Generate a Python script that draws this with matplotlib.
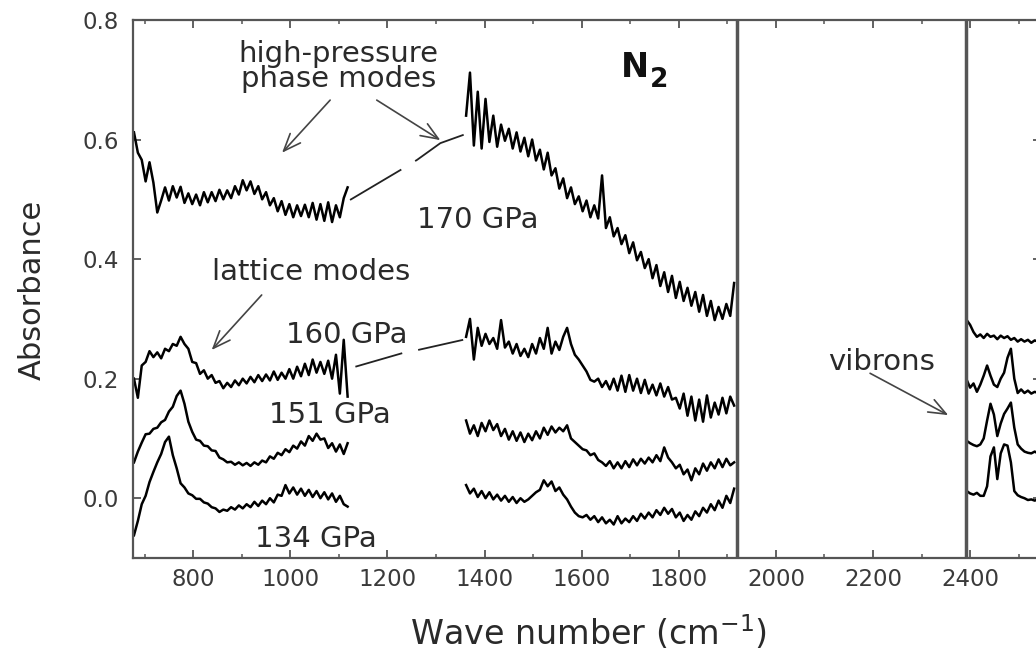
import matplotlib
matplotlib.use('Agg')
import matplotlib.pyplot as plt
from matplotlib.ticker import MultipleLocator, FormatStrFormatter

plt.rcParams['font.family'] = ['DejaVu Sans']

# wavenumber grids (cm^-1) of the three measured windows
LEFT_WN = [678, 686, 694, 702, 710, 718, 726, 734, 742, 750, 758, 766, 774, 782,
           790, 798, 806, 814, 822, 830, 838, 846, 854, 862, 870, 878, 886, 894,
           902, 910, 918, 926, 934, 942, 950, 958, 966, 974, 982, 990, 998, 1006,
           1014, 1022, 1030, 1038, 1046, 1054, 1062, 1070, 1078, 1086, 1094, 1102,
           1110, 1118]
RIGHT_WN = [1362, 1370, 1378, 1386, 1394, 1402, 1410, 1418, 1426, 1434, 1442, 1450,
            1458, 1466, 1474, 1482, 1490, 1498, 1506, 1514, 1522, 1530, 1538, 1546,
            1554, 1562, 1570, 1578, 1586, 1594, 1602, 1610, 1618, 1626, 1634, 1642,
            1650, 1658, 1666, 1674, 1682, 1690, 1698, 1706, 1714, 1722, 1730, 1738,
            1746, 1754, 1762, 1770, 1778, 1786, 1794, 1802, 1810, 1818, 1826, 1834,
            1842, 1850, 1858, 1866, 1874, 1882, 1890, 1898, 1906, 1914]
VIB_WN = [2393, 2400, 2407, 2414, 2421, 2428, 2435, 2442, 2449, 2456, 2463, 2470,
          2477, 2484, 2491, 2498, 2505, 2512, 2519, 2526, 2533, 2540]

# absorbance, 170 GPa
A170_LEFT = [0.612, 0.578, 0.566, 0.530, 0.562, 0.528, 0.478, 0.498, 0.520, 0.498,
             0.522, 0.503, 0.521, 0.494, 0.510, 0.492, 0.508, 0.490, 0.512, 0.495,
             0.512, 0.497, 0.516, 0.500, 0.515, 0.502, 0.522, 0.508, 0.532, 0.515,
             0.530, 0.509, 0.522, 0.500, 0.512, 0.490, 0.502, 0.480, 0.497, 0.474,
             0.492, 0.470, 0.490, 0.472, 0.491, 0.470, 0.494, 0.466, 0.492, 0.464,
             0.495, 0.462, 0.490, 0.470, 0.502, 0.520]
A170_RIGHT = [0.640, 0.712, 0.590, 0.680, 0.585, 0.668, 0.596, 0.640, 0.588, 0.625,
              0.598, 0.618, 0.585, 0.612, 0.580, 0.603, 0.572, 0.600, 0.565, 0.583,
              0.550, 0.578, 0.540, 0.552, 0.518, 0.535, 0.502, 0.520, 0.492, 0.505,
              0.480, 0.498, 0.470, 0.490, 0.468, 0.540, 0.452, 0.470, 0.438, 0.452,
              0.425, 0.440, 0.410, 0.428, 0.398, 0.412, 0.385, 0.400, 0.368, 0.390,
              0.355, 0.378, 0.345, 0.372, 0.335, 0.362, 0.330, 0.352, 0.322, 0.345,
              0.312, 0.340, 0.305, 0.330, 0.298, 0.320, 0.300, 0.325, 0.305, 0.360]
A170_VIB = [0.298, 0.290, 0.278, 0.270, 0.274, 0.268, 0.275, 0.270, 0.272, 0.266,
            0.272, 0.268, 0.271, 0.265, 0.268, 0.262, 0.266, 0.262, 0.265, 0.260,
            0.264, 0.262]
GAP170_WN = [1123, 1233, 1261, 1309, 1357]
GAP170_A = [0.499, 0.552, 0.566, 0.594, 0.608]

# absorbance, 160 GPa
A160_LEFT = [0.200, 0.168, 0.222, 0.228, 0.246, 0.236, 0.244, 0.234, 0.250, 0.246,
             0.258, 0.255, 0.270, 0.258, 0.250, 0.228, 0.226, 0.208, 0.214, 0.200,
             0.206, 0.193, 0.196, 0.184, 0.193, 0.186, 0.197, 0.189, 0.200, 0.192,
             0.203, 0.194, 0.206, 0.196, 0.207, 0.197, 0.212, 0.198, 0.210, 0.200,
             0.216, 0.200, 0.220, 0.204, 0.225, 0.206, 0.232, 0.210, 0.228, 0.208,
             0.230, 0.200, 0.240, 0.175, 0.265, 0.170]
A160_RIGHT = [0.270, 0.300, 0.232, 0.285, 0.255, 0.275, 0.258, 0.268, 0.250, 0.298,
              0.252, 0.262, 0.242, 0.258, 0.238, 0.250, 0.236, 0.258, 0.242, 0.268,
              0.250, 0.285, 0.242, 0.262, 0.248, 0.270, 0.285, 0.258, 0.240, 0.232,
              0.222, 0.212, 0.198, 0.195, 0.200, 0.186, 0.196, 0.182, 0.200, 0.180,
              0.205, 0.178, 0.206, 0.180, 0.200, 0.176, 0.198, 0.175, 0.190, 0.172,
              0.192, 0.170, 0.186, 0.165, 0.168, 0.150, 0.175, 0.138, 0.170, 0.130,
              0.165, 0.128, 0.172, 0.135, 0.160, 0.140, 0.168, 0.142, 0.170, 0.155]
A160_VIB = [0.198, 0.185, 0.192, 0.178, 0.190, 0.205, 0.222, 0.205, 0.190, 0.186,
            0.200, 0.210, 0.235, 0.250, 0.200, 0.176, 0.182, 0.176, 0.180, 0.175,
            0.178, 0.176]
GAP160_WN = [1134, 1232, 1263, 1356]
GAP160_A = [0.220, 0.243, 0.248, 0.265]

# absorbance, 151 GPa
A151_LEFT = [0.060, 0.078, 0.093, 0.107, 0.108, 0.116, 0.118, 0.127, 0.131, 0.145,
             0.153, 0.171, 0.180, 0.158, 0.128, 0.111, 0.098, 0.096, 0.088, 0.087,
             0.080, 0.079, 0.068, 0.065, 0.060, 0.061, 0.056, 0.060, 0.055, 0.059,
             0.054, 0.060, 0.056, 0.063, 0.060, 0.070, 0.066, 0.076, 0.072, 0.082,
             0.077, 0.088, 0.083, 0.095, 0.088, 0.104, 0.096, 0.108, 0.098, 0.100,
             0.084, 0.092, 0.078, 0.090, 0.074, 0.092]
A151_RIGHT = [0.130, 0.108, 0.122, 0.104, 0.126, 0.112, 0.130, 0.114, 0.124, 0.104,
              0.116, 0.098, 0.112, 0.096, 0.110, 0.094, 0.108, 0.097, 0.112, 0.100,
              0.118, 0.106, 0.120, 0.110, 0.118, 0.112, 0.122, 0.100, 0.094, 0.088,
              0.082, 0.080, 0.072, 0.075, 0.064, 0.060, 0.054, 0.062, 0.050, 0.060,
              0.050, 0.062, 0.052, 0.065, 0.055, 0.066, 0.058, 0.068, 0.060, 0.072,
              0.062, 0.085, 0.068, 0.060, 0.050, 0.056, 0.040, 0.048, 0.030, 0.050,
              0.040, 0.058, 0.046, 0.060, 0.050, 0.065, 0.052, 0.066, 0.055, 0.060]
A151_VIB = [0.096, 0.092, 0.089, 0.087, 0.090, 0.100, 0.130, 0.158, 0.140, 0.104,
            0.125, 0.141, 0.150, 0.160, 0.118, 0.090, 0.083, 0.078, 0.076, 0.075,
            0.078, 0.075]

# absorbance, 134 GPa
A134_LEFT = [-0.062, -0.038, -0.010, 0.004, 0.027, 0.044, 0.060, 0.074, 0.094, 0.103,
             0.072, 0.050, 0.025, 0.018, 0.008, 0.005, -0.001, -0.001, -0.007, -0.009,
             -0.015, -0.017, -0.023, -0.019, -0.021, -0.015, -0.019, -0.012, -0.017, -0.010,
             -0.015, -0.006, -0.013, -0.004, -0.010, 0.000, -0.007, 0.006, 0.004, 0.022,
             0.008, 0.018, 0.006, 0.016, 0.004, 0.014, 0.002, 0.012, 0.000, 0.010,
             -0.002, 0.008, -0.006, 0.004, -0.010, -0.014]
A134_RIGHT = [0.022, 0.008, 0.016, 0.002, 0.012, 0.000, 0.010, -0.002, 0.006, -0.004,
              0.004, -0.006, 0.002, -0.008, 0.000, -0.006, -0.002, 0.004, 0.010, 0.014,
              0.030, 0.020, 0.028, 0.012, 0.018, 0.006, -0.002, -0.014, -0.024, -0.030,
              -0.032, -0.028, -0.036, -0.030, -0.040, -0.032, -0.042, -0.036, -0.044, -0.030,
              -0.042, -0.034, -0.040, -0.030, -0.038, -0.026, -0.034, -0.024, -0.032, -0.020,
              -0.028, -0.016, -0.026, -0.018, -0.032, -0.024, -0.038, -0.028, -0.036, -0.022,
              -0.030, -0.016, -0.024, -0.010, -0.020, -0.004, -0.016, 0.004, -0.008, 0.016]
A134_VIB = [0.012, 0.008, 0.006, 0.009, 0.004, 0.004, 0.020, 0.070, 0.085, 0.032,
            0.075, 0.090, 0.088, 0.060, 0.012, 0.005, 0.002, 0.000, -0.003, -0.002,
            -0.004, -0.002]

# edges of the opaque diamond window
WINDOW_EDGES = [1920, 2391]

GRAY = '#555555'
TXT = '#2a2a2a'

fig = plt.figure(figsize=(10.36, 6.55), dpi=100)
# axes runs slightly past the right edge, the original figure is cropped there
ax = fig.add_axes([133 / 1036, 97 / 655, 908 / 1036, 538 / 655])

spectra = [
    (A170_LEFT, A170_RIGHT, A170_VIB),
    (A160_LEFT, A160_RIGHT, A160_VIB),
    (A151_LEFT, A151_RIGHT, A151_VIB),
    (A134_LEFT, A134_RIGHT, A134_VIB),
]
for left, right, vib in spectra:
    ax.plot(LEFT_WN, left, color='black', lw=1.8)
    ax.plot(RIGHT_WN, right, color='black', lw=1.8)
    ax.plot(VIB_WN, vib, color='black', lw=1.8)

# dashed guides across the missing part
ax.plot(GAP170_WN, GAP170_A, color='#222222', lw=1.3, linestyle=(0, (33, 9)))
ax.plot(GAP160_WN, GAP160_A, color='#222222', lw=1.3, linestyle=(0, (27, 9)))

for xv in WINDOW_EDGES:
    ax.axvline(xv, color=GRAY, lw=2.5)

ax.set_xlim(676, 2546)
ax.set_ylim(-0.1, 0.8)
ax.xaxis.set_major_locator(MultipleLocator(200))
ax.xaxis.set_minor_locator(MultipleLocator(100))
ax.yaxis.set_major_locator(MultipleLocator(0.2))
ax.yaxis.set_major_formatter(FormatStrFormatter('%.1f'))
ax.tick_params(which='both', direction='in', top=True, right=True,
               colors=GRAY, labelcolor='#3a3a3a', labelsize=16.5)
ax.tick_params(which='major', length=6, width=1.3)
ax.tick_params(which='minor', length=3, width=1.1)
ax.tick_params(axis='x', pad=7)
ax.tick_params(axis='y', pad=10)
for sp in ax.spines.values():
    sp.set_color(GRAY)
    sp.set_linewidth(1.6)

# axis titles
fig.text(588 / 1036, 1 - 645 / 655, 'Wave number (cm$^{-1}$)', ha='center',
         va='baseline', fontsize=24, color=TXT)
fig.text(32 / 1036, 1 - 290 / 655, 'Absorbance', rotation=90, ha='center',
         va='center', fontsize=22, color=TXT)

# labels
lab = dict(fontsize=21, color=TXT, ha='center', va='baseline')
ax.text(1099, 0.730, 'high-pressure', **lab)
ax.text(1099, 0.688, 'phase modes', **lab)
ax.text(1387, 0.452, '170 GPa', **lab)
ax.text(1043, 0.365, 'lattice modes', **lab)
ax.text(1117, 0.260, '160 GPa', **lab)
ax.text(1082, 0.126, '151 GPa', **lab)
ax.text(1053, -0.082, '134 GPa', **lab)
ax.text(2217, 0.2145, 'vibrons', **lab)
ax.text(1681, 0.705, 'N', fontsize=24, fontweight='bold', color='#111111',
        ha='left', va='baseline')
ax.text(1741, 0.688, '2', fontsize=19, fontweight='bold', color='#111111',
        ha='left', va='baseline')

arrow = dict(arrowstyle='->,head_length=0.5,head_width=0.2', color='#444444',
             lw=1.2, shrinkA=0, shrinkB=0, mutation_scale=25)
ax.annotate('', xy=(983, 0.578), xytext=(1082, 0.666), arrowprops=arrow)
ax.annotate('', xy=(1309, 0.599), xytext=(1178, 0.666), arrowprops=arrow)
ax.annotate('', xy=(838, 0.248), xytext=(941, 0.340), arrowprops=arrow)
ax.annotate('', xy=(2355, 0.139), xytext=(2194, 0.209), arrowprops=arrow)

fig.savefig('out.png', dpi=100)
